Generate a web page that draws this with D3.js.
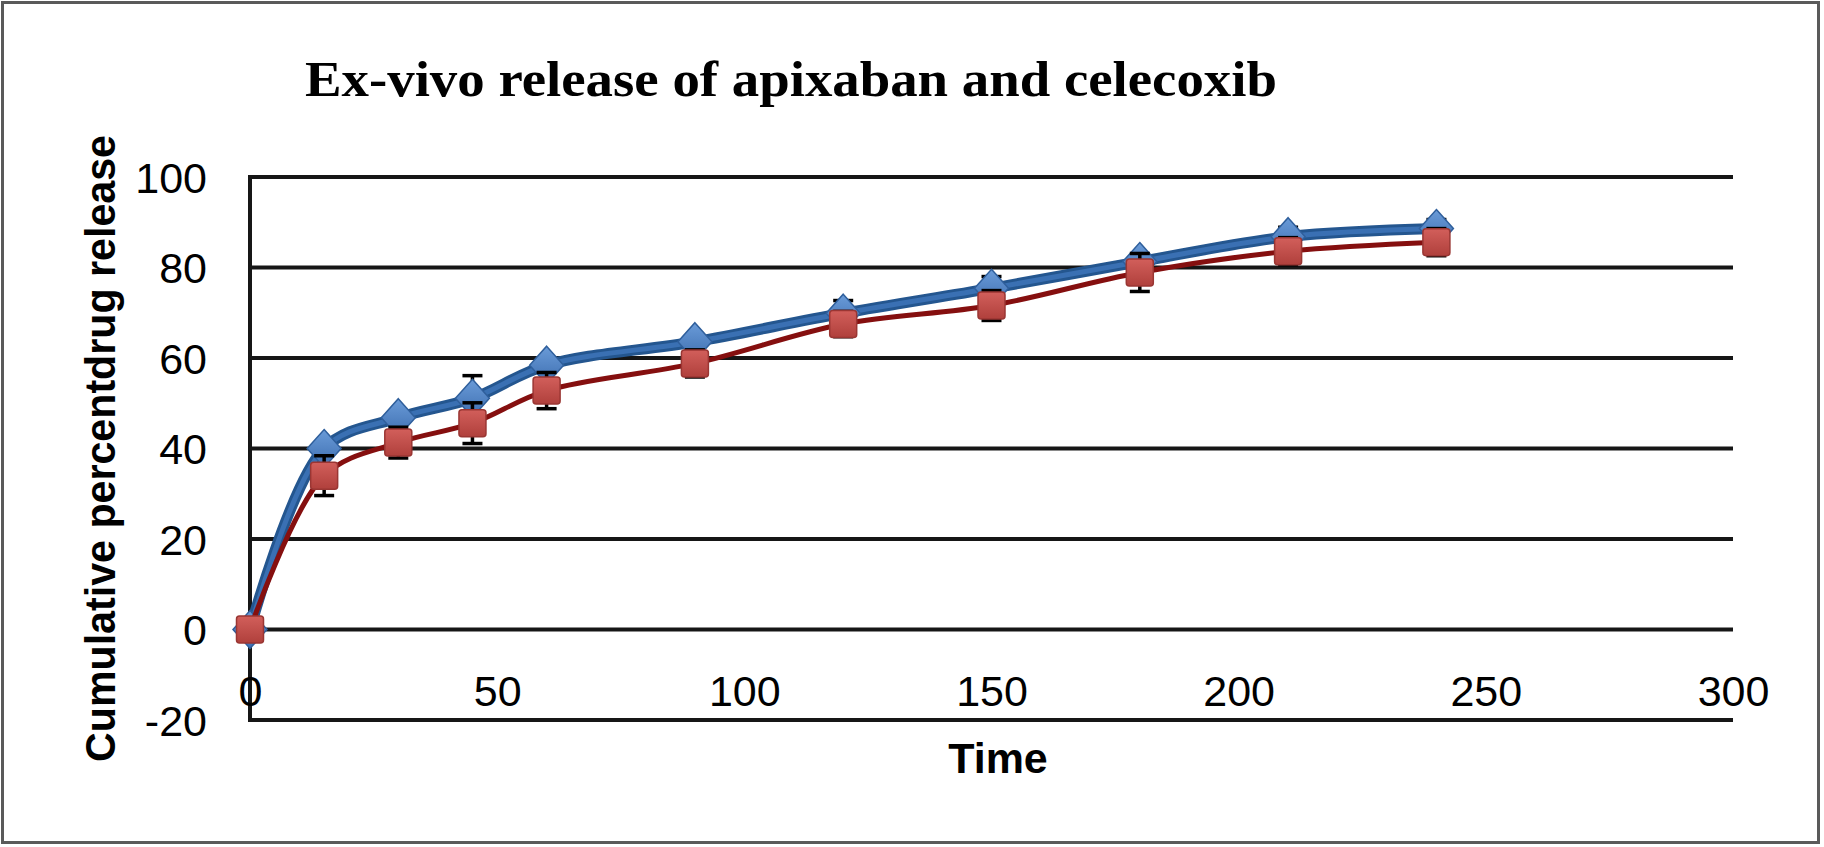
<!DOCTYPE html>
<html>
<head>
    <meta charset="UTF-8">
    <script src="https://d3js.org/d3.v7.min.js"></script>
    <style>
        body { margin: 0; background: white; }
        svg { display: block; }
        .tick text { font-family: "Liberation Sans", Arial, sans-serif; font-size: 43px; fill: #000; }
    </style>
</head>
<body>
    <div id="viz"></div>
    <script>
        // time points (x) and the two release series
        const times = [0, 15, 30, 45, 60, 90, 120, 150, 180, 210, 240];
        const apixaban = [0, 40.0, 46.8, 51.1, 58.4, 63.6, 69.9, 75.4, 81.3, 86.8, 88.6];
        const apixabanErr = [0, 0.8, 0.8, 5, 0.8, 0.8, 2.8, 2.6, 0.8, 2.1, 2];
        const celecoxib = [0, 34.0, 41.3, 45.6, 52.8, 58.8, 67.5, 71.6, 78.9, 83.6, 85.6];
        const celecoxibErr = [0, 4.4, 3.4, 4.5, 4, 3, 2.8, 3.3, 4.2, 3, 3];
        const xTicks = [0, 50, 100, 150, 200, 250, 300];
        const yTicks = [-20, 0, 20, 40, 60, 80, 100];

        const width = 1824;
        const height = 847;

        const x = d3.scaleLinear().domain([0, 300]).range([250, 1733]);
        const y = d3.scaleLinear().domain([-20, 100]).range([720, 177]);

        const svg = d3.select('#viz')
            .append('svg')
            .attr('width', width)
            .attr('height', height);

        // gradients for the glossy markers
        const defs = svg.append('defs');
        const gBlue = defs.append('linearGradient').attr('id', 'gBlue')
            .attr('x1', 0).attr('y1', 0).attr('x2', 0).attr('y2', 1);
        gBlue.append('stop').attr('offset', '0%').attr('stop-color', '#6a9bd8');
        gBlue.append('stop').attr('offset', '100%').attr('stop-color', '#3d6eb0');
        const gRed = defs.append('linearGradient').attr('id', 'gRed')
            .attr('x1', 0).attr('y1', 0).attr('x2', 0).attr('y2', 1);
        gRed.append('stop').attr('offset', '0%').attr('stop-color', '#d25f5b');
        gRed.append('stop').attr('offset', '100%').attr('stop-color', '#b0403c');

        // outer frame
        svg.append('rect')
            .attr('x', 2.5).attr('y', 2.5)
            .attr('width', 1816).attr('height', 840)
            .attr('fill', 'none')
            .attr('stroke', '#5a5a5a')
            .attr('stroke-width', 3);

        // title
        svg.append('text')
            .attr('x', 305)
            .attr('y', 96)
            .attr('textLength', 972)
            .attr('lengthAdjust', 'spacingAndGlyphs')
            .style('font-family', '"Liberation Serif", "Times New Roman", serif')
            .style('font-weight', 'bold')
            .style('font-size', '50px')
            .text('Ex-vivo release of apixaban and celecoxib');

        // horizontal gridlines
        svg.append('g')
            .selectAll('line')
            .data(yTicks)
            .enter()
            .append('line')
            .attr('x1', x(0))
            .attr('x2', x(300))
            .attr('y1', d => y(d))
            .attr('y2', d => y(d))
            .attr('stroke', '#161616')
            .attr('stroke-width', 4);

        // vertical axis line
        svg.append('line')
            .attr('x1', x(0)).attr('x2', x(0))
            .attr('y1', y(100) - 2).attr('y2', y(-20) + 2)
            .attr('stroke', '#161616')
            .attr('stroke-width', 4);

        // y tick labels (plain hyphen for the minus sign)
        const yAxis = svg.append('g')
            .attr('transform', `translate(${x(0)},0)`)
            .call(d3.axisLeft(y).tickValues(yTicks).tickSize(0).tickPadding(43)
                .tickFormat(d => String(d)));
        yAxis.select('.domain').remove();
        yAxis.selectAll('text').attr('dy', '0.36em');

        // x tick labels (sit just above the bottom gridline)
        const xAxis = svg.append('g')
            .attr('transform', `translate(0,${y(0)})`)
            .call(d3.axisBottom(x).tickValues(xTicks).tickSize(0).tickFormat(d => String(d)));
        xAxis.select('.domain').remove();
        xAxis.selectAll('text').attr('dy', null).attr('y', 706 - y(0));

        // axis titles
        svg.append('text')
            .attr('x', 998)
            .attr('y', 773)
            .attr('text-anchor', 'middle')
            .style('font-family', '"Liberation Sans", Arial, sans-serif')
            .style('font-weight', 'bold')
            .style('font-size', '43px')
            .text('Time');

        svg.append('text')
            .attr('transform', `translate(115,${(y(100) + y(-20)) / 2}) rotate(-90)`)
            .attr('text-anchor', 'middle')
            .attr('textLength', 627)
            .attr('lengthAdjust', 'spacingAndGlyphs')
            .style('font-family', '"Liberation Sans", Arial, sans-serif')
            .style('font-weight', 'bold')
            .style('font-size', '42px')
            .text('Cumulative percentdrug release');

        const line = d3.line()
            .x(d => x(d.t))
            .y(d => y(d.v))
            .curve(d3.curveCatmullRom.alpha(0.5));

        function makeRows(vals, errs) {
            return times.map((t, i) => ({ t: t, v: vals[i], e: errs[i] }));
        }

        function drawErrors(g, rows) {
            const eb = g.append('g').selectAll('g')
                .data(rows.filter(d => d.e > 0))
                .enter()
                .append('g')
                .attr('stroke', '#000')
                .attr('stroke-width', 3.5);
            eb.append('line')
                .attr('x1', d => x(d.t)).attr('x2', d => x(d.t))
                .attr('y1', d => y(d.v - d.e)).attr('y2', d => y(d.v + d.e));
            eb.append('line')
                .attr('x1', d => x(d.t) - 10).attr('x2', d => x(d.t) + 10)
                .attr('y1', d => y(d.v + d.e)).attr('y2', d => y(d.v + d.e));
            eb.append('line')
                .attr('x1', d => x(d.t) - 10).attr('x2', d => x(d.t) + 10)
                .attr('y1', d => y(d.v - d.e)).attr('y2', d => y(d.v - d.e));
        }

        // apixaban series (blue, diamonds)
        const blueRows = makeRows(apixaban, apixabanErr);
        const blue = svg.append('g');
        drawErrors(blue, blueRows);
        blue.append('path')
            .datum(blueRows)
            .attr('d', line)
            .attr('fill', 'none')
            .attr('stroke', '#24568f')
            .attr('stroke-width', 11);
        blue.append('path')
            .datum(blueRows)
            .attr('d', line)
            .attr('fill', 'none')
            .attr('stroke', '#3a70b3')
            .attr('stroke-width', 5);
        blue.append('g').selectAll('path')
            .data(blueRows)
            .enter()
            .append('path')
            .attr('transform', d => `translate(${x(d.t)},${y(d.v)})`)
            .attr('d', 'M0,-19L17,0L0,19L-17,0Z')
            .attr('fill', 'url(#gBlue)')
            .attr('stroke', '#2f5f9c')
            .attr('stroke-width', 1.5);

        // celecoxib series (red, squares)
        const redRows = makeRows(celecoxib, celecoxibErr);
        const red = svg.append('g');
        drawErrors(red, redRows);
        red.append('path')
            .datum(redRows)
            .attr('d', line)
            .attr('fill', 'none')
            .attr('stroke', '#850f0f')
            .attr('stroke-width', 5);
        red.append('g').selectAll('rect')
            .data(redRows)
            .enter()
            .append('rect')
            .attr('x', d => x(d.t) - 13.5)
            .attr('y', d => y(d.v) - 13.5)
            .attr('width', 27)
            .attr('height', 27)
            .attr('rx', 3)
            .attr('fill', 'url(#gRed)')
            .attr('stroke', '#9a3633')
            .attr('stroke-width', 1.5);
    </script>
</body>
</html>
